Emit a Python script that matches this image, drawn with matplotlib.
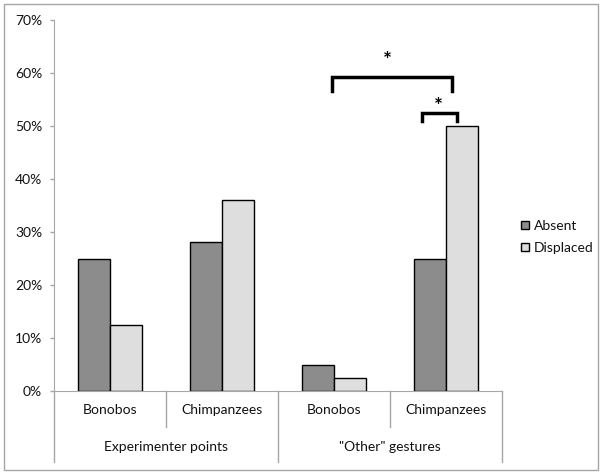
import matplotlib
matplotlib.use('Agg')

import matplotlib.pyplot as plt
from matplotlib.patches import Rectangle, Patch
from matplotlib.transforms import blended_transform_factory
from matplotlib.ticker import PercentFormatter

plt.rcParams['font.family'] = ['Lato', 'DejaVu Sans']

# data
categories = ["Bonobos", "Chimpanzees", "Bonobos", "Chimpanzees"]
groups = ["Experimenter points", "\"Other\" gestures"]
absent = [0.25, 0.281, 0.05, 0.25]
displaced = [0.125, 0.36, 0.025, 0.50]
series_names = ["Absent", "Displaced"]

# significance brackets: (x0, x1, y_top, y_leg, star_x, star_y)
brackets = [
    (2.48, 3.55, 0.592, 0.566, 2.98, 0.622),
    (3.29, 3.60, 0.524, 0.509, 3.43, 0.536),
]

W, H = 602, 474
fig = plt.figure(figsize=(W / 100, H / 100), dpi=100)
ax = fig.add_axes([54 / W, (H - 391) / H, (502 - 54) / W, (391 - 20) / H])

dark = "#8c8c8c"
light = "#dedede"
gray = "#a6a6a6"
txt = "#111111"

x = [i + 0.5 for i in range(len(categories))]
bw = 0.2857
ax.bar([v - bw / 2 for v in x], absent, width=bw, color=dark,
       edgecolor="black", linewidth=1, label=series_names[0], zorder=3)
ax.bar([v + bw / 2 for v in x], displaced, width=bw, color=light,
       edgecolor="black", linewidth=1, label=series_names[1], zorder=3)

ax.set_xlim(0, 4)
ax.set_ylim(0, 0.7)
ax.set_yticks([i / 10 for i in range(8)])
ax.yaxis.set_major_formatter(PercentFormatter(1.0, decimals=0))
ax.tick_params(axis="y", length=3, width=1, color=gray, pad=5.5,
               labelsize=10, labelcolor=txt)
ax.set_xticks([])

for s in ["top", "right"]:
    ax.spines[s].set_visible(False)
ax.spines["left"].set_color(gray)
ax.spines["bottom"].set_color(gray)

# category axis lines below the plot
tr = blended_transform_factory(ax.transData, ax.transAxes)
for xv in [0, 2, 4]:
    ax.plot([xv, xv], [0, -0.191], transform=tr, color=gray, lw=1, clip_on=False)
for xv in [1, 3]:
    ax.plot([xv, xv], [0, -0.097], transform=tr, color=gray, lw=1, clip_on=False)

for xv, c in zip(x, categories):
    ax.text(xv, -0.051, c, transform=tr, ha="center", va="center",
            fontsize=10, color=txt)
for i, g in enumerate(groups):
    ax.text(2 * i + 1, -0.151, g, transform=tr, ha="center", va="center",
            fontsize=10, color=txt)

# brackets with stars
for x0, x1, yt, yl, sx, sy in brackets:
    ax.plot([x0, x0, x1, x1], [yl, yt, yt, yl], color="black", lw=2.5,
            solid_joinstyle="miter", clip_on=False, zorder=4)
    ax.text(sx, sy, "*", ha="center", va="center", fontsize=15,
            fontweight="bold", color="black")

handles = [Patch(facecolor=dark, edgecolor="black", linewidth=1),
           Patch(facecolor=light, edgecolor="black", linewidth=1)]
fig.legend(handles, series_names, loc="center left",
           bbox_to_anchor=(521 / W, (H - 237) / H), frameon=False,
           borderpad=0, borderaxespad=0,
           handlelength=0.55, handleheight=0.55, handletextpad=0.35,
           labelspacing=0.75, fontsize=10, labelcolor=txt)

# outer chart border
fig.patches.append(Rectangle((4 / W, 4 / H), 594 / W, 466 / H,
                             transform=fig.transFigure, fill=False,
                             edgecolor=gray, linewidth=1))

plt.savefig("out.png", dpi=100)
plt.close()
